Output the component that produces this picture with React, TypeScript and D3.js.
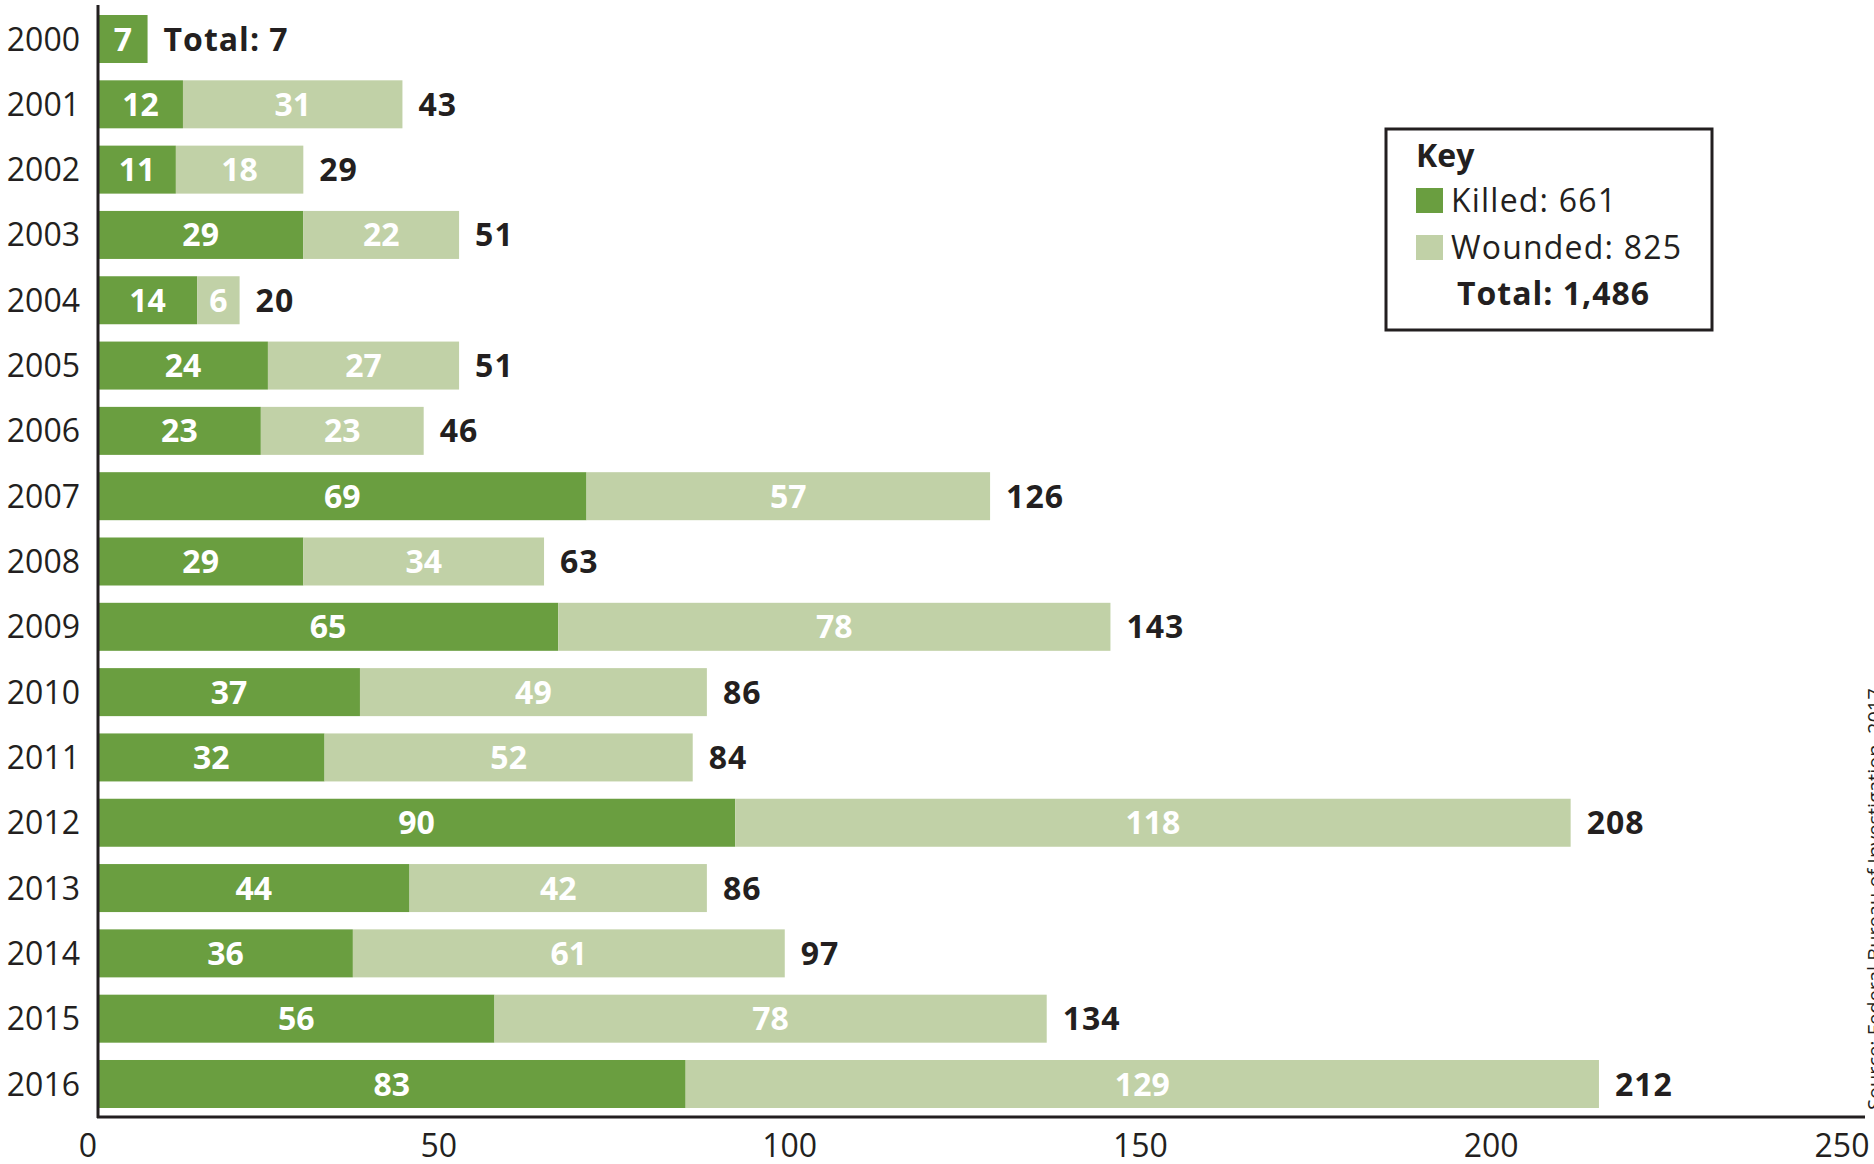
import * as d3 from 'd3';

const years = ['2000', '2001', '2002', '2003', '2004', '2005', '2006', '2007', '2008', '2009', '2010', '2011', '2012', '2013', '2014', '2015', '2016'];
const killed = [7, 12, 11, 29, 14, 24, 23, 69, 29, 65, 37, 32, 90, 44, 36, 56, 83];
const wounded = [0, 31, 18, 22, 6, 27, 23, 57, 34, 78, 49, 52, 118, 42, 61, 78, 129];
const xTicks = [0, 50, 100, 150, 200, 250];
const legendItems = ['Killed: 661', 'Wounded: 825'];
const legendTotal = 'Total: 1,486';
const source = 'Source: Federal Bureau of Investigation, 2017';

const W = 1874;
const H = 1164;
const KILLED = '#6a9e40';
const WOUNDED = '#c1d1a7';
const INK = '#231f20';
const FONT = '"Open Sans", "Noto Sans", sans-serif';

export default function App() {
  const x = d3.scaleLinear().domain([0, 250]).range([98, 1868]);
  // the printed tick labels sit slightly left of the bar scale
  const xLabel = d3.scaleLinear().domain([0, 250]).range([88, 1842]);
  const y = d3.scaleBand<string>().domain(years).range([15, 1108]).paddingInner(0.265);
  const bh = y.bandwidth();

  const rows = years.map((yr, i) => ({ yr, k: killed[i], w: wounded[i], t: killed[i] + wounded[i] }));

  return (
    <div style={{ position: 'absolute', left: 0, top: 0 }}>
      <svg width={W} height={H} style={{ display: 'block', background: '#fff' }} fontFamily={FONT}>
        {rows.map((d) => {
          const y0 = y(d.yr)!;
          const cy = y0 + bh / 2;
          return (
            <g key={d.yr}>
              <text x={80} y={cy} dy="0.36em" textAnchor="end" fontSize={32} fill={INK}>{d.yr}</text>
              <rect x={x(0)} y={y0} width={x(d.k) - x(0)} height={bh} fill={KILLED} />
              {d.w > 0 && (
                <rect x={x(d.k)} y={y0} width={x(d.k + d.w) - x(d.k)} height={bh} fill={WOUNDED} />
              )}
              <text x={(x(0) + x(d.k)) / 2} y={cy} dy="0.36em" textAnchor="middle" fontSize={32} fontWeight={700} fill="#fff">{d.k}</text>
              {d.w > 0 && (
                <text x={(x(d.k) + x(d.k + d.w)) / 2} y={cy} dy="0.36em" textAnchor="middle" fontSize={32} fontWeight={700} fill="#fff">{d.w}</text>
              )}
              <text x={x(d.t) + 16} y={cy} dy="0.36em" fontSize={32} fontWeight={700} fill={INK} letterSpacing={1}>
                {d.w > 0 ? d.t : `Total: ${d.t}`}
              </text>
            </g>
          );
        })}

        <line x1={98} x2={98} y1={5} y2={1118} stroke={INK} strokeWidth={3} />
        <line x1={97} x2={1865} y1={1117} y2={1117} stroke={INK} strokeWidth={3} />
        {xTicks.map((t) => (
          <text key={t} x={xLabel(t)} y={1145} dy="0.36em" textAnchor="middle" fontSize={32} fill={INK}>{t}</text>
        ))}

        <g>
          <rect x={1386} y={129} width={326} height={201} fill="#fff" stroke={INK} strokeWidth={3} />
          <text x={1416} y={167} fontSize={32} fontWeight={700} fill={INK}>Key</text>
          {legendItems.map((s, i) => (
            <g key={s}>
              <rect x={1416} y={188 + i * 47} width={27} height={25} fill={i === 0 ? KILLED : WOUNDED} />
              <text x={1451} y={212 + i * 47} fontSize={32} fill={INK} letterSpacing={1.2}>{s}</text>
            </g>
          ))}
          <text x={1457} y={305} fontSize={32} fontWeight={700} fill={INK} letterSpacing={1}>{legendTotal}</text>
        </g>

        <text transform="translate(1882,1110) rotate(-90)" fontSize={20} fill={INK}>{source}</text>
      </svg>
    </div>
  );
}
